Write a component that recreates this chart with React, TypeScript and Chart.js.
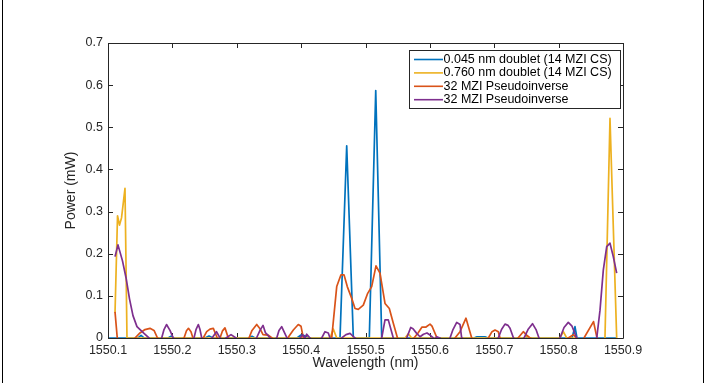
import React, { useEffect, useRef } from 'react';
import { Chart, registerables } from 'chart.js';

Chart.register(...registerables);

const X_TICKS = [1550.1, 1550.2, 1550.3, 1550.4, 1550.5, 1550.6, 1550.7, 1550.8, 1550.9];
const Y_TICKS = [0, 0.1, 0.2, 0.3, 0.4, 0.5, 0.6, 0.7];
const X_TITLE = 'Wavelength (nm)';
const Y_TITLE = 'Power (mW)';
const SERIES_LABELS = [
  '0.045 nm doublet (14 MZI CS)',
  '0.760 nm doublet (14 MZI CS)',
  '32 MZI Pseudoinverse',
  '32 MZI Pseudoinverse',
];
const SERIES_COLORS = ['#0072BD', '#EDB120', '#D95319', '#7E2F8E'];

const BLUE_X = [
  1550.1016, 1550.1466, 1550.1513, 1550.1559, 1550.1932, 1550.1979, 1550.2025,
  1550.2507, 1550.2569, 1550.2631, 1550.319, 1550.3237, 1550.3283, 1550.3936,
  1550.3998, 1550.406, 1550.4122, 1550.4604, 1550.4708, 1550.4811, 1550.5059,
  1550.5159, 1550.5252, 1550.6685, 1550.6732, 1550.6856, 1550.6903, 1550.8208,
  1550.8254, 1550.8285, 1550.8907,
];
const BLUE_Y = [
  0, 0, 0.006, 0, 0, 0.004, 0,
  0, 0.005, 0, 0, 0.004, 0, 0,
  0.007, 0.005, 0, 0, 0.456, 0, 0,
  0.587, 0, 0, 0.003, 0.003, 0, 0,
  0.027, 0, 0,
];

const YELLOW_X = [
  1550.1109, 1550.1148, 1550.1179, 1550.121, 1550.1264, 1550.1295,
  1550.4449, 1550.45, 1550.4553, 1550.5614, 1550.5665, 1550.5718,
  1550.747, 1550.7504, 1550.754, 1550.8021, 1550.8073, 1550.8125,
  1550.8285, 1550.835, 1550.865, 1550.872, 1550.8798, 1550.8902,
];
const YELLOW_Y = [
  0.06, 0.29, 0.268, 0.285, 0.355, 0,
  0, 0.021, 0, 0, 0.01, 0,
  0, 0.005, 0, 0, 0.015, 0,
  0, -0.01, -0.01, 0, 0.521, 0,
];

const ORANGE_X = [
  1550.1109, 1550.1144, 1550.128, 1550.1419, 1550.1497, 1550.1575, 1550.1652, 1550.1715, 1550.1769,
  1550.1975, 1550.2181, 1550.2219, 1550.225, 1550.2289, 1550.232, 1550.24, 1550.248, 1550.2533,
  1550.2584, 1550.2636, 1550.2698, 1550.2719, 1550.274, 1550.2779, 1550.2817, 1550.2869, 1550.303,
  1550.319, 1550.3237, 1550.331, 1550.3361, 1550.3408, 1550.3485, 1550.3548, 1550.367, 1550.3792,
  1550.3879, 1550.3956, 1550.3998, 1550.4034, 1550.425, 1550.4475, 1550.4553, 1550.4619, 1550.4666,
  1550.4717, 1550.4786, 1550.4837, 1550.4888, 1550.4966, 1550.5034, 1550.5096, 1550.5163, 1550.5225,
  1550.5303, 1550.537, 1550.5432, 1550.5497, 1550.562, 1550.5753, 1550.5816, 1550.5878, 1550.594,
  1550.6002, 1550.6033, 1550.6111, 1550.625, 1550.639, 1550.6468, 1550.6561, 1550.665, 1550.678,
  1550.6908, 1550.6965, 1550.7012, 1550.7063, 1550.7089, 1550.723, 1550.7369, 1550.7451, 1550.7504,
  1550.7555, 1550.785, 1550.815, 1550.8228, 1550.8281, 1550.834, 1550.8394, 1550.8542, 1550.8596,
  1550.875, 1550.8907,
];
const ORANGE_Y = [
  0.062, 0, -0.02, 0, 0.012, 0.02, 0.023, 0.018, 0,
  -0.02, 0, 0.017, 0.023, 0.015, 0, -0.01, 0, 0.015,
  0.021, 0.023, 0, -0.005, 0, 0.017, 0.024, 0, -0.02,
  0, 0.018, 0.032, 0.022, 0.008, 0.007, 0, -0.02, 0,
  0.019, 0.032, 0.028, 0, -0.02, 0, 0.122, 0.15, 0.15,
  0.122, 0.094, 0.07, 0.068, 0.078, 0.106, 0.122, 0.171, 0.154,
  0.082, 0.07, 0.035, 0, -0.02, 0, 0.012, 0.026, 0.026,
  0.033, 0.028, 0, -0.02, 0, 0.015, 0.047, 0, -0.02,
  0, 0.015, 0.019, 0.015, 0, -0.02, 0, 0.015, 0.007,
  0, -0.02, 0, 0.008, 0, -0.01, 0, 0.039, 0,
  -0.02, -0.01,
];

const PURPLE_X = [
  1550.1109, 1550.1155, 1550.1225, 1550.128, 1550.1334, 1550.1388, 1550.145, 1550.1551, 1550.1637,
  1550.1735, 1550.1834, 1550.187, 1550.1909, 1550.1963, 1550.2014, 1550.2175, 1550.2336, 1550.2367,
  1550.2403, 1550.2429, 1550.2456, 1550.2536, 1550.2616, 1550.2685, 1550.274, 1550.2787, 1550.2833,
  1550.2911, 1550.2988, 1550.315, 1550.3307, 1550.3361, 1550.3408, 1550.3447, 1550.347, 1550.3517,
  1550.357, 1550.3621, 1550.3656, 1550.3698, 1550.3734, 1550.3781, 1550.388, 1550.3983, 1550.4021,
  1550.406, 1550.4087, 1550.4138, 1550.423, 1550.432, 1550.4371, 1550.4422, 1550.4449, 1550.454,
  1550.463, 1550.4697, 1550.4759, 1550.4837, 1550.505, 1550.5252, 1550.5303, 1550.5354, 1550.5432,
  1550.554, 1550.564, 1550.5702, 1550.5738, 1550.5795, 1550.5847, 1550.5901, 1550.5955, 1550.6002,
  1550.6053, 1550.608, 1550.6106, 1550.6157, 1550.624, 1550.6313, 1550.6359, 1550.6417, 1550.6468,
  1550.6494, 1550.678, 1550.7063, 1550.7113, 1550.7167, 1550.7214, 1550.7245, 1550.7299, 1550.738,
  1550.7462, 1550.7524, 1550.7594, 1550.7649, 1550.7695, 1550.786, 1550.8021, 1550.8084, 1550.815,
  1550.8208, 1550.8281, 1550.844, 1550.8592, 1550.8643, 1550.8694, 1550.8747, 1550.8798, 1550.8849,
  1550.8902,
];
const PURPLE_Y = [
  0.193, 0.221, 0.183, 0.143, 0.093, 0.053, 0.027, 0.012, 0,
  -0.02, 0, 0.02, 0.032, 0.018, 0, -0.02, 0, 0.02,
  0.032, 0.02, 0, -0.01, 0, 0.015, 0, -0.005, 0,
  0.008, 0, -0.02, 0, 0.018, 0.03, 0.012, 0.009, 0,
  -0.005, 0, 0.018, 0.027, 0.015, 0, -0.01, 0, 0.008,
  0, 0.009, 0, -0.01, 0, 0.015, 0.012, 0, -0.01,
  0, 0.008, 0.011, 0, -0.02, 0, 0.043, 0.043, 0,
  -0.02, 0, 0.025, 0.022, 0.011, 0.003, 0.009, 0.012, 0.007,
  0, -0.003, 0.003, 0, -0.01, 0, 0.02, 0.037, 0.032,
  0, -0.02, 0, 0.02, 0.033, 0.03, 0.023, 0, -0.01,
  0, 0.02, 0.034, 0.02, 0, -0.02, 0, 0.025, 0.037,
  0.028, 0, -0.02, 0, 0.066, 0.161, 0.217, 0.225, 0.193,
  0.154,
];

const FONT = '"Liberation Sans", Arial, Helvetica, sans-serif';
const AXIS_COLOR = '#262626';

export default function App() {
  const ref = useRef<HTMLCanvasElement>(null);

  useEffect(() => {
    const canvas = ref.current;
    if (!canvas) return;
    const pts = (xs: number[], ys: number[]) => xs.map((x, i) => ({ x, y: ys[i] }));

    const boxPlugin = {
      id: 'matlabBox',
      beforeDraw(chart: any) {
        const ctx = chart.ctx;
        ctx.save();
        ctx.strokeStyle = '#000';
        ctx.lineWidth = 1;
        ctx.beginPath();
        ctx.moveTo(2.5, 0);
        ctx.lineTo(2.5, chart.height);
        ctx.moveTo(chart.width - 2.5, 0);
        ctx.lineTo(chart.width - 2.5, chart.height);
        ctx.stroke();
        ctx.restore();
      },
      beforeDatasetsDraw(chart: any) {
        const { ctx, chartArea } = chart;
        const { left, right, top, bottom } = chartArea;
        const xs = chart.scales.x;
        const ys = chart.scales.y;
        const tl = 5;
        ctx.save();
        ctx.strokeStyle = AXIS_COLOR;
        ctx.lineWidth = 1;
        ctx.beginPath();
        ctx.rect(left + 0.5, top + 0.5, right - left, bottom - top);
        for (const t of xs.ticks) {
          const px = Math.round(xs.getPixelForValue(t.value)) + 0.5;
          ctx.moveTo(px, bottom);
          ctx.lineTo(px, bottom - tl);
          ctx.moveTo(px, top);
          ctx.lineTo(px, top + tl);
        }
        for (const t of ys.ticks) {
          const py = Math.round(ys.getPixelForValue(t.value)) + 0.5;
          ctx.moveTo(left, py);
          ctx.lineTo(left + tl, py);
          ctx.moveTo(right, py);
          ctx.lineTo(right - tl, py);
        }
        ctx.stroke();
        ctx.restore();
      },
      afterDraw(chart: any) {
        const ctx = chart.ctx;
        const bx = 409.5, by = 50.5, bw = 211, bh = 58;
        ctx.save();
        ctx.fillStyle = '#fff';
        ctx.fillRect(bx, by, bw, bh);
        ctx.strokeStyle = AXIS_COLOR;
        ctx.lineWidth = 1;
        ctx.strokeRect(bx, by, bw, bh);
        ctx.font = `12.5px ${FONT}`;
        ctx.textBaseline = 'middle';
        ctx.textAlign = 'left';
        SERIES_LABELS.forEach((label, i) => {
          const y = 59.5 + i * 13.4;
          ctx.strokeStyle = SERIES_COLORS[i];
          ctx.lineWidth = 1.6;
          ctx.beginPath();
          ctx.moveTo(414, y);
          ctx.lineTo(443, y);
          ctx.stroke();
          ctx.fillStyle = '#000';
          ctx.fillText(label, 443.5, y);
        });
        ctx.restore();
      },
    };

    const series = [
      { x: BLUE_X, y: BLUE_Y, order: 4 },
      { x: YELLOW_X, y: YELLOW_Y, order: 3 },
      { x: ORANGE_X, y: ORANGE_Y, order: 2 },
      { x: PURPLE_X, y: PURPLE_Y, order: 1 },
    ];

    const chart = new Chart(canvas, {
      type: 'line',
      data: {
        datasets: series.map((s, i) => ({
          label: SERIES_LABELS[i],
          data: pts(s.x, s.y),
          borderColor: SERIES_COLORS[i],
          backgroundColor: SERIES_COLORS[i],
          borderWidth: 1.7,
          pointRadius: 0,
          tension: 0,
          fill: false,
          borderJoinStyle: 'round',
          order: s.order,
        })),
      },
      options: {
        animation: false,
        responsive: false,
        devicePixelRatio: 1,
        layout: { padding: { left: 0, top: 43, right: 83, bottom: 0 } },
        plugins: { legend: { display: false }, tooltip: { enabled: false } },
        scales: {
          x: {
            type: 'linear',
            min: X_TICKS[0],
            max: X_TICKS[X_TICKS.length - 1],
            afterBuildTicks: (s: any) => {
              s.ticks = X_TICKS.map((v) => ({ value: v }));
            },
            afterFit: (s: any) => {
              s.height = 45;
            },
            ticks: {
              callback: (v: any) => Number(v).toFixed(1),
              font: { family: FONT, size: 12.5 },
              color: AXIS_COLOR,
              padding: 5,
              maxRotation: 0,
              autoSkip: false,
            },
            grid: { display: false, drawTicks: false },
            border: { display: false },
            title: {
              display: true,
              text: X_TITLE,
              font: { family: FONT, size: 14 },
              color: AXIS_COLOR,
              padding: { top: 0, bottom: 11 },
            },
          },
          y: {
            type: 'linear',
            min: Y_TICKS[0],
            max: Y_TICKS[Y_TICKS.length - 1],
            afterBuildTicks: (s: any) => {
              s.ticks = Y_TICKS.map((v) => ({ value: v }));
            },
            afterFit: (s: any) => {
              s.width = 108;
            },
            ticks: {
              callback: (v: any) => (Number(v) === 0 ? '0' : Number(v).toFixed(1)),
              font: { family: FONT, size: 12.5 },
              color: AXIS_COLOR,
              padding: 5,
            },
            grid: { display: false, drawTicks: false },
            border: { display: false },
            title: {
              display: true,
              text: Y_TITLE,
              font: { family: FONT, size: 14 },
              color: AXIS_COLOR,
              padding: { top: 63, bottom: 0 },
            },
          },
        },
      },
      plugins: [boxPlugin],
    } as any);

    return () => chart.destroy();
  }, []);

  return (
    <div style={{ position: 'fixed', left: 0, top: 0, width: 706, height: 383, background: '#fff' }}>
      <canvas ref={ref} width={706} height={383} style={{ display: 'block' }} />
    </div>
  );
}
